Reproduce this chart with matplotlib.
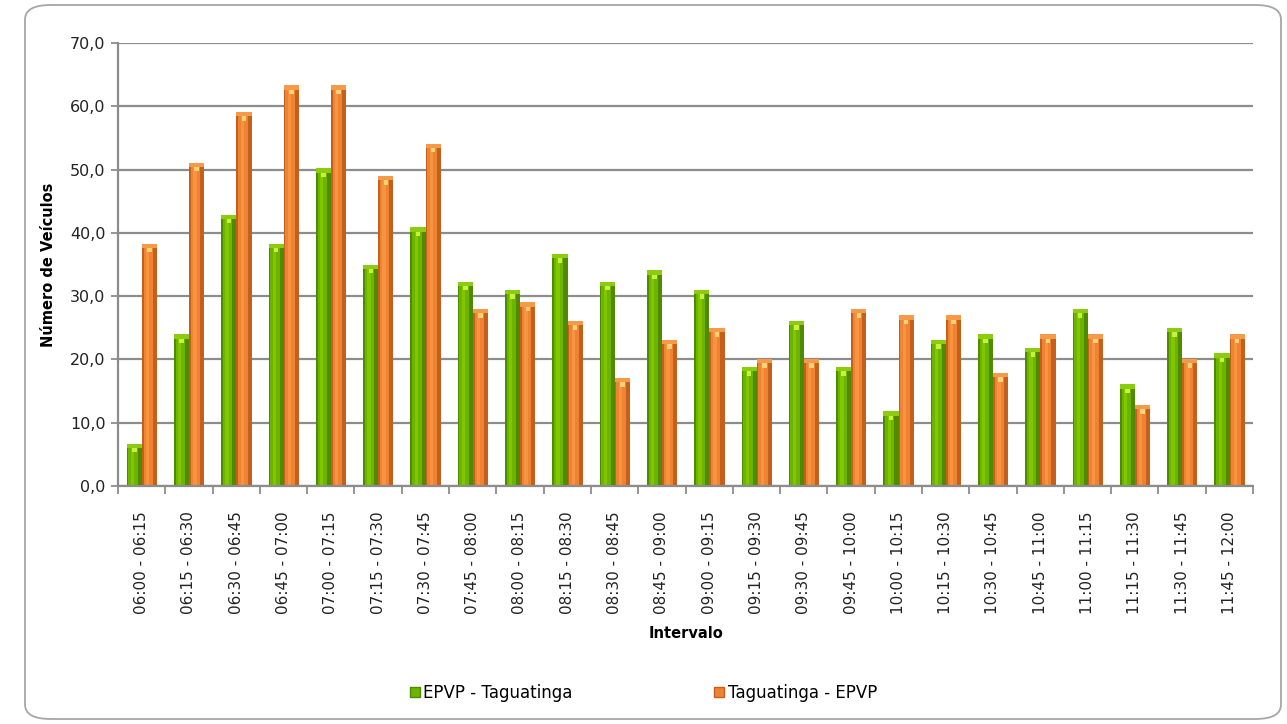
import matplotlib
matplotlib.use("Agg")
import matplotlib.pyplot as plt
import numpy as np
from matplotlib.patches import FancyBboxPatch, Patch
from matplotlib.ticker import FuncFormatter, MultipleLocator

categories = ["06:00 - 06:15", "06:15 - 06:30", "06:30 - 06:45", "06:45 - 07:00",
              "07:00 - 07:15", "07:15 - 07:30", "07:30 - 07:45", "07:45 - 08:00",
              "08:00 - 08:15", "08:15 - 08:30", "08:30 - 08:45", "08:45 - 09:00",
              "09:00 - 09:15", "09:15 - 09:30", "09:30 - 09:45", "09:45 - 10:00",
              "10:00 - 10:15", "10:15 - 10:30", "10:30 - 10:45", "10:45 - 11:00",
              "11:00 - 11:15", "11:15 - 11:30", "11:30 - 11:45", "11:45 - 12:00"]
epvp_tag = [6.7, 24.0, 42.9, 38.3, 50.2, 35.0, 40.9, 32.3, 31.0, 36.7, 32.3, 34.1,
            31.0, 18.8, 26.1, 18.8, 11.8, 23.1, 24.0, 21.8, 28.0, 16.1, 25.0, 21.0]
tag_epvp = [38.3, 51.1, 59.1, 63.3, 63.3, 49.0, 54.1, 28.0, 29.0, 26.1, 17.1, 23.1,
            25.0, 20.1, 20.1, 28.0, 27.0, 27.0, 17.9, 24.0, 24.0, 12.8, 20.1, 24.0]
series_names = ["EPVP - Taguatinga", "Taguatinga - EPVP"]

plt.rcParams['font.family'] = ['DejaVu Sans']

fig = plt.figure(figsize=(12.87, 7.24), dpi=100)
W, H = 1287, 724
# rounded outer border
border = FancyBboxPatch((25 / W, 5 / H), (1281 - 25) / W, (719 - 5) / H,
                        boxstyle="round,pad=0,rounding_size=0.02",
                        transform=fig.transFigure, facecolor="none",
                        edgecolor="#a6a6a6", linewidth=1.3, zorder=5)
fig.patches.append(border)

ax = fig.add_axes([118 / W, 1 - 486 / H, (1253 - 118) / W, (486 - 43) / H])
ax.set_facecolor("none")

x = np.arange(len(categories))
bw = 0.32
gx = x - 0.155
ox = x + 0.165

def draw_series(xs, vals, dark, main, light, cap, rim):
    vals = np.asarray(vals)
    ax.bar(xs, vals, width=bw, color=dark, edgecolor="none", zorder=3)
    ax.bar(xs - bw * 0.08, vals, width=bw * 0.62, color=main, edgecolor="none", zorder=4)
    ax.bar(xs - bw * 0.12, vals, width=bw * 0.22, color=light, edgecolor="none", zorder=5, alpha=0.6)
    ax.bar(xs, np.full_like(vals, 0.7), bottom=vals - 0.7, width=bw, color=rim,
           edgecolor="none", zorder=6)
    ax.bar(xs, np.full_like(vals, 0.7), bottom=vals - 1.4, width=bw * 0.3, color=cap,
           edgecolor="none", zorder=6)

draw_series(gx, epvp_tag, "#4f8a00", "#6db400", "#8fd400", "#c8f040", "#8ccc10")
draw_series(ox, tag_epvp, "#c45f1c", "#ee8433", "#ff9e4a", "#ffd27a", "#f59a48")

ax.set_xlim(-0.5, len(categories) - 0.5)
ax.set_ylim(0, 70)
ax.yaxis.set_major_locator(MultipleLocator(10))
ax.yaxis.set_major_formatter(FuncFormatter(lambda v, p: f"{v:.1f}".replace(".", ",")))
ax.grid(axis="y", color="#8c8c8c", linewidth=1.6, zorder=1)
ax.set_axisbelow(True)

for s in ["top", "right"]:
    ax.spines[s].set_visible(False)
for s in ["left", "bottom"]:
    ax.spines[s].set_color("#8c8c8c")
    ax.spines[s].set_linewidth(1.6)
ax.spines["bottom"].set_zorder(7)

ax.set_xticks(x)
ax.set_xticklabels(categories, rotation=90, fontsize=11, color="#222222")
ax.set_xticks(np.arange(-0.5, len(categories), 1), minor=True)
ax.tick_params(axis="x", which="major", length=0, pad=18)
ax.tick_params(axis="x", which="minor", length=6, color="#8c8c8c", width=1.3)
ax.tick_params(axis="y", length=5, color="#8c8c8c", width=1.3, labelsize=11.5,
               labelcolor="#222222", pad=4)

ax.set_ylabel("Número de Veículos", fontsize=10.5, fontweight="bold", labelpad=10)
fig.text((118 + 1253) / 2 / W, 1 - 633 / H, "Intervalo", ha="center", va="center",
         fontsize=10.5, fontweight="bold")

handles = [Patch(facecolor="#6db400", edgecolor="#4f8a00"),
           Patch(facecolor="#ee8433", edgecolor="#c45f1c")]
fig.legend(handles, series_names, loc="center", bbox_to_anchor=(0.5, 1 - 693 / H),
           ncol=2, frameon=False, fontsize=12, handlelength=0.6, handleheight=0.6,
           handletextpad=0.2, columnspacing=8.5)

fig.savefig("out.png", dpi=100)
